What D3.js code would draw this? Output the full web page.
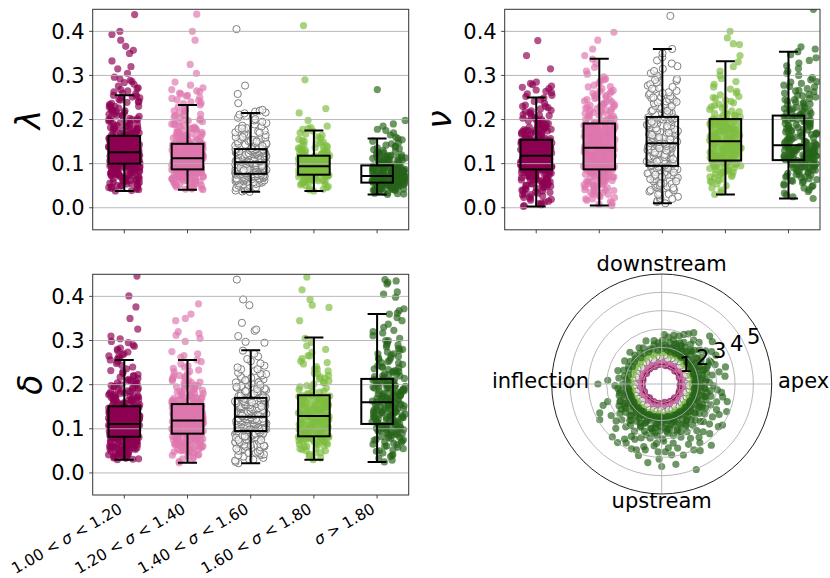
<!DOCTYPE html>
<html>
<head>
<meta charset="utf-8">
<script src="https://cdn.jsdelivr.net/npm/d3@7"></script>
<style>
  body { margin: 0; background: #fff; }
  svg { display: block; }
  text { font-family: "DejaVu Sans", sans-serif; fill: #000; }
</style>
</head>
<body>
<svg id="chart" width="830" height="578"></svg>
<script>
// ---------- data ----------
const categories = ["1.00 < σ < 1.20", "1.20 < σ < 1.40", "1.40 < σ < 1.60", "1.60 < σ < 1.80", "σ > 1.80"];
const yTicks = [0, 0.1, 0.2, 0.3, 0.4];
const yTickLabels = ["0.0", "0.1", "0.2", "0.3", "0.4"];
const radialTicks = [1, 2, 3, 4, 5];
const thetaTicks = [0, 90, 180, 270];
const thetaLabels = ["apex", "downstream", "inflection", "upstream"];

// box summaries per class: [low whisker, Q1, median, Q3, high whisker]
const lambdaBox = [[.038,.100,.126,.163,.255],[.041,.087,.112,.145,.233],[.036,.077,.103,.133,.215],[.038,.075,.094,.118,.175],[.030,.057,.072,.096,.157]];
const nuBox     = [[.003,.087,.118,.154,.250],[.005,.087,.136,.191,.338],[.010,.095,.146,.206,.360],[.030,.107,.151,.201,.332],[.021,.108,.142,.209,.354]];
const deltaBox  = [[.030,.082,.111,.151,.256],[.023,.089,.119,.156,.256],[.022,.095,.127,.170,.278],[.030,.083,.129,.176,.307],[.025,.111,.160,.213,.360]];

// individual samples, stored in thousandths
const SCALE = 1000;
const lambda1 = [38,39,41,42,44,45,46,47,49,50,51,52,53,54,55,56,57,58,59,60,61,62,62,63,64,65,66,66,67,68,69,69,70,71,72,72,73,74,74,75,76,76,77,78,78,79,80,80,81,82,82,83,84,84,85,85,86,87,87,88,88,89,90,90,91,91,92,93,93,94,94,95,95,96,96,97,97,98,98,99,
100,100,101,101,101,102,102,102,103,103,103,104,104,104,105,105,105,106,106,106,107,107,107,108,108,108,109,109,109,110,110,110,111,111,111,112,112,112,113,113,113,114,114,114,115,115,115,116,116,116,117,117,117,118,118,118,119,119,119,120,120,120,121,121,121,122,122,122,123,123,123,124,124,124,125,125,125,126,126,
127,127,128,128,129,129,130,130,131,131,132,132,133,133,134,134,135,135,136,136,137,137,138,138,139,139,140,140,141,141,142,142,143,143,144,144,145,145,146,146,147,147,148,148,149,149,150,150,151,151,152,152,153,153,154,154,155,155,156,156,157,157,158,158,159,159,160,160,161,161,162,162,163,163,
164,165,166,167,168,169,170,171,172,173,174,175,176,177,178,179,180,181,182,184,185,186,187,189,190,191,193,194,196,197,199,200,202,203,205,207,208,210,212,214,216,218,220,222,224,226,228,230,232,234,237,239,241,244,246,249,251,254,255,170,180,190,200,210,220,230,240,250,
258,260,263,265,268,270,272,276,280,284,286,289,292,296,305,315,320,333,350,357,366,380,393,400,438];
const lambda2 = [41,42,43,44,45,46,47,48,49,50,51,52,53,54,55,56,57,58,59,60,60,61,62,63,63,64,65,66,66,67,68,68,69,70,70,71,72,72,73,73,74,75,75,76,76,77,77,78,78,79,79,80,80,81,81,82,82,83,83,84,84,85,85,85,86,86,86,87,87,87,
88,88,89,89,90,90,90,91,91,92,92,93,93,93,94,94,95,95,96,96,96,97,97,98,98,99,99,99,100,100,101,101,102,102,102,103,103,104,104,105,105,105,106,106,107,107,108,108,108,109,109,110,110,111,111,111,112,112,113,113,113,114,114,114,112,110,106,101,95,90,
113,114,115,115,116,117,117,118,119,119,120,121,121,122,123,123,124,125,125,126,127,127,128,129,129,130,131,131,132,133,133,134,135,135,136,137,137,138,139,139,140,141,141,142,143,143,144,145,145,118,122,126,130,134,138,142,116,120,124,128,132,136,140,144,115,119,123,127,131,135,
146,147,148,149,150,151,152,153,154,155,156,157,158,159,160,161,162,163,164,165,166,167,168,170,171,172,174,175,177,178,180,181,183,185,187,189,191,193,195,197,199,201,204,206,209,212,215,218,221,225,229,233,150,160,170,180,190,200,210,220,
236,238,240,243,245,248,250,253,255,258,260,263,265,268,272,278,285,305,325,380,400,439];
const lambda3 = [36,37,39,40,42,43,45,46,48,49,50,51,52,53,54,55,56,57,58,59,60,60,61,62,62,63,64,64,65,65,66,66,67,67,68,68,69,69,70,70,71,71,72,72,72,73,73,73,74,74,74,75,75,75,76,76,76,77,77,77,
78,78,79,79,80,80,81,81,82,82,83,83,84,84,85,85,86,86,87,87,88,88,89,89,90,90,91,91,92,92,93,93,94,94,95,95,96,96,97,97,98,98,99,99,100,100,101,101,102,102,103,103,79,83,87,91,95,99,81,85,
104,104,105,105,106,106,107,107,108,108,109,109,110,110,111,111,112,112,113,113,114,114,115,115,116,116,117,117,118,118,119,119,120,120,121,121,122,122,123,123,124,124,125,125,126,126,127,127,128,128,129,129,130,130,131,131,132,132,133,133,
134,135,136,137,138,139,140,141,142,143,144,145,146,147,148,149,150,151,152,153,154,156,157,159,160,162,163,165,167,169,171,173,175,177,179,181,184,186,189,192,195,198,201,204,208,211,214,140,150,160,170,180,
216,218,220,222,237,258,277,405];
const lambda4 = [38,40,42,44,46,48,50,52,54,55,57,58,59,60,61,62,63,64,65,66,66,67,68,68,69,70,70,71,71,72,72,73,73,74,74,75,75,60,65,70,
76,76,77,77,78,78,79,79,80,80,81,81,82,82,83,83,84,84,85,85,86,86,87,87,88,88,89,89,90,90,91,91,92,92,93,93,94,94,80,88,
95,95,96,97,97,98,99,99,100,101,101,102,103,103,104,105,105,106,107,107,108,109,109,110,111,111,112,113,113,114,115,115,116,117,117,118,100,106,112,98,
119,120,121,122,123,124,125,126,127,128,129,130,131,132,133,135,136,138,139,141,143,145,147,149,151,153,155,158,161,164,167,170,174,130,140,
178,180,182,185,198,215,225,290,413];
const lambda5 = [30,31,32,33,34,35,36,37,38,39,40,40,41,42,42,43,43,44,44,45,45,46,46,47,47,48,48,49,49,50,50,50,51,51,51,52,52,52,53,53,53,54,54,54,55,55,55,56,56,56,57,57,45,50,
57,58,58,58,59,59,59,60,60,60,61,61,61,62,62,62,63,63,63,64,64,64,65,65,65,66,66,66,67,67,67,68,68,68,69,69,69,70,70,70,71,71,71,72,72,72,60,64,68,58,62,66,70,61,
73,73,74,74,75,75,76,76,77,77,78,78,79,79,80,80,81,81,82,82,83,83,84,84,85,85,86,86,87,87,88,88,89,89,90,90,91,91,92,92,93,93,94,94,95,95,96,96,75,80,85,90,78,88,
97,98,99,100,101,102,103,104,105,106,107,108,109,110,111,112,113,114,115,116,117,118,119,120,122,124,126,128,130,132,134,136,138,140,142,145,148,151,154,157,100,105,110,115,120,125,
160,165,170,175,178,185,190,198,268];

const nu1 = [3,5,7,9,11,13,15,17,19,21,23,25,27,29,30,32,33,35,36,38,39,40,42,43,44,45,47,48,49,50,51,52,53,54,55,56,57,58,59,60,61,62,63,64,65,66,66,67,68,69,70,70,71,72,73,73,74,75,75,76,77,77,78,79,79,80,80,81,82,82,83,83,84,84,85,85,86,86,87,87,
88,88,89,89,90,90,91,91,92,92,93,93,94,94,95,95,96,96,97,97,98,98,99,99,100,100,101,101,102,102,103,103,104,104,105,105,106,106,107,107,108,108,109,109,110,110,111,111,112,112,113,113,114,114,115,115,116,116,117,117,118,118,89,92,95,98,101,104,107,110,113,116,90,94,98,102,106,110,114,117,
119,119,120,120,121,122,122,123,124,124,125,126,126,127,128,128,129,130,130,131,132,132,133,134,134,135,136,136,137,138,138,139,140,140,141,142,142,143,144,144,145,146,146,147,148,148,149,150,150,151,152,152,153,154,154,120,125,130,135,140,145,150,123,128,133,138,143,148,153,121,127,131,137,141,147,151,124,129,139,149,
155,156,157,158,159,160,161,162,163,164,165,166,167,168,169,170,171,172,173,174,175,176,177,178,179,181,182,183,185,186,188,189,191,192,194,196,197,199,201,203,205,207,209,211,213,216,218,221,224,227,230,233,237,241,245,249,160,170,180,190,200,210,220,230,165,175,185,195,
252,255,258,261,264,267,270,273,276,279,282,285,315,345,379];
const nu2 = [5,8,11,14,17,20,23,25,28,30,33,35,37,39,41,43,45,47,49,50,52,53,55,56,58,59,61,62,63,64,66,67,68,69,70,71,72,73,74,75,76,77,78,79,80,81,82,83,84,85,86,86,87,87,20,30,40,50,60,70,80,45,55,65,75,35,62,72,82,58,
88,89,90,91,92,93,94,95,96,97,98,99,100,101,102,103,104,105,106,107,108,109,110,111,112,113,114,115,116,117,118,119,120,121,122,123,124,125,126,127,128,129,130,131,132,133,134,135,136,90,93,96,99,102,105,108,111,114,117,120,123,126,129,132,135,94,100,110,120,130,
137,138,139,140,141,142,143,144,145,146,147,148,149,150,151,152,153,154,155,156,157,158,159,160,161,162,163,164,165,166,167,168,169,170,171,172,173,174,175,176,177,178,179,180,181,182,183,184,185,186,187,188,189,190,140,145,150,155,160,165,170,175,180,185,190,143,153,163,173,183,
192,194,196,198,200,202,204,206,208,210,212,214,216,218,220,222,224,226,228,230,232,234,236,239,242,245,248,251,254,257,260,263,266,270,274,278,282,287,292,297,303,310,318,327,337,195,205,215,225,235,245,255,265,275,200,210,220,230,240,250,260,290,
345,360,380,398];
const nu3 = [10,13,16,19,22,25,28,31,34,37,40,42,44,46,48,50,52,54,56,58,60,62,63,65,66,68,69,71,72,74,75,77,78,80,81,82,84,85,86,87,88,89,90,91,92,93,94,94,20,30,40,50,60,70,80,90,45,55,65,75,
96,97,98,99,100,101,102,103,104,105,106,107,108,109,110,111,112,113,114,115,116,117,118,119,120,121,122,123,124,125,126,127,128,129,130,131,132,133,134,135,136,137,138,139,140,141,142,143,144,145,100,105,110,115,120,125,130,135,140,145,
147,148,149,150,151,152,153,154,155,156,157,158,159,160,162,163,164,166,167,168,170,171,172,174,175,176,178,179,180,182,183,184,186,187,188,190,191,192,194,195,196,198,199,200,202,203,204,205,150,155,160,165,170,175,180,185,190,195,200,205,
207,209,211,213,215,217,219,221,223,225,227,229,231,233,235,237,239,241,243,245,247,249,251,253,256,259,262,265,268,271,274,277,280,284,288,292,296,300,305,310,315,321,327,334,341,350,360,210,220,230,240,250,260,270,290,
435];
const nu4 = [30,35,40,45,50,54,58,62,65,68,71,74,77,79,81,83,85,87,89,91,93,95,96,98,99,100,101,102,103,104,105,106,60,70,80,90,100,75,85,95,
108,109,110,111,112,113,114,115,116,117,118,119,120,121,122,123,124,125,126,127,128,129,130,131,132,133,134,135,136,137,138,139,140,141,142,143,144,145,146,148,
152,153,154,155,156,157,158,159,160,162,163,164,166,167,168,170,171,172,174,175,176,178,179,180,182,183,184,186,187,188,190,191,192,194,195,196,197,198,199,200,
202,204,206,208,210,212,214,216,218,220,223,226,229,232,235,238,241,244,248,252,256,260,264,269,274,280,286,293,300,310,320,331,210,230,250,
345,370,372,385,400];
const nu5 = [21,25,29,33,37,41,45,48,51,54,57,60,62,64,66,68,70,72,74,76,78,80,82,83,85,86,88,89,91,92,93,94,95,96,97,98,99,100,101,102,103,104,105,106,107,107,60,70,80,90,100,50,75,95,
108,109,109,110,111,111,112,113,113,114,115,115,116,117,117,118,119,119,120,121,121,122,123,123,124,125,125,126,127,127,128,129,129,130,131,131,132,133,133,134,135,135,136,137,137,138,139,139,140,141,141,110,120,130,
143,144,146,147,148,150,151,152,154,155,156,158,159,160,162,163,164,166,167,168,170,171,172,174,175,176,178,179,180,182,183,184,186,187,188,190,191,192,194,195,196,198,199,200,202,203,204,206,207,208,150,170,190,200,
210,212,214,216,218,220,222,224,226,228,230,233,236,239,242,245,248,251,254,257,260,263,266,270,274,278,282,286,290,295,300,305,310,316,322,328,334,340,347,354,215,225,235,245,255,265,275,285,220,240,
360,365,450];

const delta1 = [30,31,32,33,34,35,36,37,38,39,40,41,42,43,44,45,46,47,48,49,50,51,52,53,54,55,56,57,58,59,60,61,62,63,64,65,66,67,68,69,70,71,72,73,74,75,76,77,78,79,80,81,40,45,50,55,60,62,64,66,68,70,72,74,75,76,77,78,79,80,81,57,63,67,71,73,69,65,61,59,
82,82,83,83,84,84,85,85,86,86,87,87,88,88,89,89,90,90,91,91,92,92,93,93,94,94,95,95,96,96,97,97,98,98,99,99,100,100,101,101,102,102,103,103,104,104,105,105,106,106,107,107,108,108,109,109,110,110,111,111,83,85,87,89,91,93,95,97,99,101,103,105,107,109,84,88,92,96,100,104,
112,112,113,113,114,114,115,115,116,116,117,117,118,118,119,119,120,120,121,121,122,122,123,123,124,124,125,125,126,126,127,127,128,128,129,129,130,130,131,131,132,132,133,133,134,134,135,135,136,136,137,137,138,138,139,139,140,140,141,141,142,142,143,143,144,144,145,145,146,146,147,147,148,148,149,149,150,150,151,151,
152,153,154,155,156,157,158,159,160,161,162,163,164,165,166,167,168,169,170,171,172,173,174,175,177,178,180,181,183,184,186,188,190,192,194,196,198,200,202,204,207,209,212,214,217,220,223,226,229,232,236,240,244,248,252,256,160,170,180,190,200,210,220,165,175,185,195,205,
258,260,263,265,268,270,274,277,280,283,287,290,295,298,304,310,326,350,376,401,446];
const delta2 = [23,26,29,32,35,38,40,42,44,46,48,50,51,53,54,56,57,58,60,61,62,63,64,65,66,67,68,69,70,71,72,73,74,75,76,77,78,79,80,81,82,83,84,85,86,87,88,88,40,50,60,70,80,55,65,75,85,45,52,59,66,73,78,83,86,63,68,72,77,82,
89,90,90,91,91,92,92,93,93,94,94,95,95,96,96,97,97,98,98,99,99,100,100,101,101,102,102,103,103,104,104,105,105,106,106,107,107,108,108,109,109,110,110,111,111,112,112,113,113,114,114,115,115,116,116,117,117,118,118,119,90,95,100,105,110,115,93,98,103,108,
120,121,121,122,123,123,124,125,125,126,127,127,128,129,129,130,131,131,132,133,133,134,135,135,136,137,137,138,139,139,140,141,141,142,143,143,144,145,145,146,147,147,148,149,149,150,151,151,152,153,153,154,155,155,156,122,126,130,134,138,142,146,150,154,124,128,132,136,140,144,
157,158,159,160,161,162,163,164,165,166,167,168,169,170,171,172,174,175,177,178,180,181,183,185,187,189,191,193,195,197,199,201,204,206,209,212,215,218,221,225,229,233,237,242,247,252,256,160,170,180,190,200,210,220,230,165,175,185,195,205,215,240,
262,266,270,275,298,305,312,316,320,345,350,360,383];
const delta3 = [22,25,28,31,34,37,40,42,44,46,48,50,52,54,56,58,60,61,63,64,66,67,69,70,72,73,75,76,78,79,81,82,84,85,86,87,88,89,90,91,92,93,94,94,30,40,50,60,70,80,90,45,55,65,75,85,62,74,83,92,
96,96,97,97,98,98,99,99,100,100,101,101,102,102,103,103,104,104,105,105,106,106,107,107,108,108,109,109,110,110,111,111,112,112,113,113,114,114,115,115,116,116,117,117,118,118,119,119,120,120,121,121,122,122,123,123,124,124,125,126,
128,129,129,130,131,132,132,133,134,135,135,136,137,138,138,139,140,141,141,142,143,144,144,145,146,147,147,148,149,150,150,151,152,153,153,154,155,156,156,157,158,159,159,160,161,162,162,163,164,165,165,166,167,168,168,169,170,130,150,160,
171,172,173,174,175,176,177,178,179,180,181,182,183,184,185,187,188,190,191,193,195,197,199,201,203,205,207,210,212,215,218,221,224,227,231,235,239,243,248,253,258,264,270,277,175,185,195,205,215,225,235,180,190,200,210,
295,297,310,322,325,340,380,393,438];
const delta4 = [30,34,38,42,46,50,53,56,59,61,63,65,67,69,70,72,73,74,75,76,77,78,79,80,81,82,82,83,45,55,65,75,60,70,80,50,68,78,71,79,
84,85,87,88,90,91,93,94,96,97,99,100,102,103,105,106,108,109,111,112,114,115,117,118,120,121,122,123,124,125,126,127,128,86,92,98,104,110,116,119,
130,131,133,134,136,137,139,140,142,143,145,146,148,149,151,152,154,155,157,158,160,161,163,164,166,167,169,170,172,173,174,175,176,135,141,147,153,159,165,171,
178,180,183,186,189,192,195,198,201,205,209,213,217,221,226,231,236,241,247,253,259,266,273,280,288,296,305,185,195,205,215,225,235,250,265,
345,375,380,393,415,444];
const delta5 = [25,29,33,37,41,45,49,52,55,58,61,64,67,70,72,74,76,78,80,82,84,86,88,89,91,92,94,95,97,98,100,101,102,103,104,105,106,107,108,109,110,110,40,50,60,70,80,90,100,65,75,85,95,105,
112,113,114,115,116,117,118,119,120,121,122,123,124,125,126,127,128,129,130,131,132,133,134,135,136,137,138,139,140,141,142,143,144,145,146,147,148,149,150,151,152,153,154,155,156,157,158,159,115,125,135,145,155,130,
161,162,163,164,165,166,167,168,169,170,171,172,173,174,175,176,177,178,179,180,181,182,183,184,185,186,187,188,189,190,191,192,193,194,195,196,197,198,199,200,201,202,203,204,205,206,207,208,209,210,211,212,213,170,
214,216,218,220,222,224,226,228,230,232,234,236,238,240,243,246,249,252,255,258,261,264,267,270,274,278,282,286,290,295,300,305,311,317,323,330,337,345,352,360,220,230,240,250,260,270,280,290,300,320,
362,368,372,398,405,410,428,432,435,438];

// polar samples: [angle in degrees, sigma]
const polar1 = [[3,1.05],[12,1.13],[20,1.02],[28,1.17],[36,1.08],[45,1.01],[53,1.15],[61,1.06],[70,1.11],[78,1.03],[86,1.18],[95,1.07],[103,1.12],[111,1.02],[120,1.16],[128,1.05],[137,1.1],[145,1.01],[153,1.14],[162,1.08],[170,1.04],[179,1.19],[187,1.06],[195,1.12],[204,1.03],[212,1.15],[220,1.09],[229,1.01],[237,1.13],[246,1.05],[254,1.17],[262,1.07],[271,1.1],[279,1.02],[287,1.14],[296,1.06],[304,1.11],[313,1.03],[321,1.16],[330,1.08],[338,1.04],[347,1.12],[355,1.01]];
const polar2 = [[2,1.26],[10,1.34],[18,1.22],[26,1.38],[34,1.29],[42,1.21],[50,1.35],[58,1.27],[66,1.31],[74,1.23],[82,1.37],[90,1.28],[98,1.33],[106,1.22],[114,1.36],[122,1.25],[130,1.3],[138,1.21],[146,1.34],[154,1.27],[162,1.24],[170,1.39],[178,1.26],[186,1.32],[194,1.23],[202,1.35],[210,1.29],[218,1.21],[226,1.33],[234,1.25],[242,1.37],[250,1.27],[258,1.3],[266,1.22],[274,1.34],[282,1.26],[290,1.31],[298,1.23],[306,1.36],[314,1.28],[322,1.24],[330,1.32],[338,1.21],[346,1.35],[354,1.29]];
const polar3 = [[5,1.45],[13,1.53],[21,1.42],[29,1.58],[37,1.49],[45,1.41],[53,1.55],[61,1.47],[69,1.51],[77,1.43],[85,1.57],[93,1.48],[101,1.53],[109,1.42],[117,1.56],[125,1.45],[133,1.5],[141,1.41],[149,1.54],[157,1.47],[165,1.44],[173,1.59],[181,1.46],[189,1.52],[197,1.43],[205,1.55],[213,1.49],[221,1.41],[229,1.53],[237,1.45],[245,1.57],[253,1.47],[261,1.5],[269,1.42],[277,1.54],[285,1.46],[293,1.51],[301,1.43],[309,1.56],[317,1.48],[325,1.44],[333,1.52],[341,1.41],[349,1.55],[357,1.49]];
const polar4 = [[1,1.66],[9,1.74],[17,1.62],[25,1.78],[33,1.69],[41,1.61],[49,1.75],[57,1.67],[65,1.71],[73,1.63],[81,1.77],[89,1.68],[97,1.73],[105,1.62],[113,1.76],[121,1.65],[129,1.7],[137,1.61],[145,1.74],[153,1.67],[161,1.64],[169,1.79],[177,1.66],[185,1.72],[193,1.63],[201,1.75],[209,1.69],[217,1.61],[225,1.73],[233,1.65],[241,1.77],[249,1.67],[257,1.7],[265,1.62],[273,1.74],[281,1.66],[289,1.71],[297,1.63],[305,1.76],[313,1.68],[321,1.64],[329,1.72],[337,1.61],[345,1.75],[353,1.69]];
const polar5 = [
  [1,1.86],[5,2.12],[8,1.95],[13,2.27],[16,1.9],[21,2.06],[24,2.21],[29,1.88],[32,2.16],[37,2.01],[40,1.84],[45,2.24],[48,1.97],[53,2.09],[56,1.86],[61,2.19],[64,2.03],[69,1.92],[72,2.28],[77,1.99],
  [80,1.87],[85,2.14],[88,1.94],[93,2.07],[96,1.85],[101,2.18],[104,1.96],[109,2.02],[112,1.89],[117,2.22],[120,1.93],[125,2.05],[128,1.84],[133,2.15],[136,1.98],[141,1.9],[144,2.11],[149,1.86],[152,2.04],[157,1.95],
  [160,2.2],[165,1.88],[168,2.08],[173,1.97],[176,1.85],[181,2.13],[184,1.91],[189,2.26],[192,2.0],[197,1.87],[200,2.17],[205,1.94],[208,2.29],[213,2.03],[216,1.89],[221,2.23],[224,1.96],[229,2.1],[232,1.85],[237,2.25],
  [240,2.0],[245,1.92],[248,2.19],[253,2.06],[256,1.88],[261,2.27],[264,1.98],[269,2.12],[272,1.86],[277,2.21],[280,2.02],[285,1.93],[288,2.16],[293,2.07],[296,1.87],[301,2.24],[304,1.99],[309,2.09],[312,1.9],[317,2.18],
  [320,2.04],[325,1.85],[328,2.22],[333,1.96],[336,2.11],[341,1.89],[344,2.26],[349,2.01],[352,1.92],[357,2.15],
  [188,1.83],[194,1.9],[199,1.81],[206,1.88],[211,1.82],[217,1.93],[223,1.84],[228,1.91],[234,1.82],[239,1.95],[246,1.83],[251,1.89],[258,1.82],[263,1.94],[270,1.83],[275,1.9],[282,1.81],[287,1.96],[294,1.84],[299,1.88],
  [306,1.82],[311,1.93],[318,1.85],[323,1.9],[330,1.82],[335,1.95],[342,1.84],[347,1.88],[354,1.82],[359,1.92],[6,1.83],[11,1.9],[18,1.82],[23,1.94],[30,1.85],[35,1.89],[42,1.82],[50,1.91],[57,1.84],[63,1.88],
  [191,1.81],[203,1.8],[214,1.81],[226,1.8],[237,1.81],[249,1.8],[261,1.81],[267,1.8],[279,1.8],[291,1.81],[302,1.8],[315,1.81],[327,1.8],[338,1.81],[351,1.8],[3,1.81],[15,1.8],[27,1.81],[39,1.8],[53,1.81],[66,1.8],[75,1.81],
  [192,2.35],[197,2.05],[203,2.48],[209,2.15],[214,2.38],[219,1.98],[225,2.45],[231,2.22],[236,2.05],[241,2.4],[247,2.28],[252,1.95],[257,2.5],[263,2.18],[268,2.33],[273,2.02],[278,2.46],[283,2.25],[289,2.1],[294,2.39],
  [299,1.97],[304,2.44],[309,2.3],[314,2.12],[319,2.36],[324,2.0],[329,2.42],[334,2.27],[339,2.08],[344,2.47],[349,2.2],[354,2.37],[359,2.04],[3,2.4],[8,2.23],[14,2.06],[19,2.45],[25,2.3],[31,2.12],[36,2.38],
  [42,2.0],[47,2.42],[52,2.26],[58,2.1],[63,2.35],[68,2.15],[74,2.05],[79,2.3],[84,2.02],[89,2.38],[95,2.25],[212,2.6],[244,2.62],[276,2.58],[300,2.65],[330,2.55],[20,2.6],[262,2.68],[288,2.7],[230,2.58],
  [202,2.42],[207,2.61],[211,2.35],[215,2.78],[218,2.5],[222,2.92],[226,2.38],[229,2.66],[233,2.83],[236,2.45],[240,2.97],[243,2.56],[247,2.34],[250,2.74],[253,2.9],[256,2.48],[259,2.63],[262,2.37],[265,2.85],[268,2.55],
  [271,2.99],[274,2.41],[277,2.7],[280,2.52],[283,2.88],[286,2.33],[289,2.64],[292,2.79],[295,2.46],[298,2.95],[301,2.58],[304,2.39],[307,2.82],[310,2.51],[313,2.69],[316,2.94],[319,2.43],[322,2.6],[325,2.86],[328,2.36],
  [331,2.73],[334,2.49],[337,2.91],[340,2.57],[343,2.4],[346,2.77],[349,2.53],[352,2.67],[355,2.35],[358,2.84],[2,2.6],[6,2.44],[10,2.8],[14,2.52],[18,2.37],[22,2.71],[26,2.89],[30,2.47],[34,2.62],[38,2.34],
  [42,2.76],[46,2.55],[50,2.42],[54,2.68],[58,2.38],[62,2.58],[66,2.45],[70,2.33],[75,2.5],[195,2.4],
  [198,3.1],[212,3.25],[219,3.2],[224,3.48],[230,3.05],[236,3.62],[240,3.3],[249,3.15],[254,3.55],[258,3.02],[263,3.4],[267,3.7],[272,3.12],[276,3.5],[281,3.28],[290,3.08],[294,3.6],[298,3.35],[303,3.82],[307,3.18],
  [311,3.45],[318,3.06],[327,3.3],[332,3.55],[342,3.15],[348,3.4],[354,3.05],[12,3.2],[20,3.1],[28,3.35],[40,3.6],[48,3.05],[54,2.96],
  [200,3.4],[210,3.9],[227,3.95],[233,4.0],[244,3.35],[252,4.1],[256,3.7],[265,3.25],[270,4.5],[278,3.9],[284,3.6],[296,4.0],[305,3.55],[309,4.3],[320,3.4],[326,4.0],[335,3.3],[345,3.7],[352,3.3],[15,3.6],
  [33,3.25],[24,2.95],[37,3.0],[62,3.1],[70,2.8],[76,2.75],
  [100,2.4],[110,2.5],[122,2.33],[135,2.45],[148,2.38],[163,2.5],[172,2.36],[82,2.58],[87,2.7],[66,2.96],[58,3.3],[45,3.7],[176,2.95],[182,2.55],[180,3.48],[186,2.4],
  [292,5.03],[260,4.35],[239,3.76],[273,3.7],[287,4.05],[300,4.2],[314,3.77],[323,3.87],[249,3.85],[205,3.73],[337,3.85],[7,3.48],[268,4.1],[280,4.45],[245,3.9]
];

// ---------- styling ----------
const pointFill = ["#8e0152", "#de77ae", "#ffffff", "#7fbc41", "#276419"];
const boxFill   = ["#8e0152", "#e596c3", "#ffffff", "#98cc66", "#ffffff"];
const jitterRange = [[-0.25, 0.25], [-0.25, 0.25], [-0.25, 0.25], [-0.25, 0.25], [-0.08, 0.45]];
const GRID = "#b0b0b0";
const FONT = 21;
const ALPHA = 0.68;

const svg = d3.select("#chart");

// deterministic horizontal spread for strip points
function spread(i, j, seed) {
  const s = Math.sin(j * 12.9898 + i * 78.233 + seed * 37.719) * 43758.5453;
  return s - Math.floor(s);
}

function stylePoint(sel, i) {
  if (i === 2) {
    sel.attr("fill", "#ffffff").attr("fill-opacity", 0.6)
       .attr("stroke", "#7f7f7f").attr("stroke-width", 1);
  } else {
    sel.attr("fill", pointFill[i]).attr("fill-opacity", ALPHA).attr("stroke", "none");
  }
}

function boxPanel(o) {
  const x = d3.scaleLinear().domain([-0.5, 4.5]).range([o.left, o.right]);
  const y = d3.scaleLinear().domain([-0.05, 0.45]).range([o.bottom, o.top]);
  const g = svg.append("g");
  const clipId = "clip-" + o.seed;
  svg.append("clipPath").attr("id", clipId).append("rect")
    .attr("x", o.left).attr("y", o.top).attr("width", o.right - o.left).attr("height", o.bottom - o.top);
  const plot = g.append("g").attr("clip-path", `url(#${clipId})`);
  const half = 0.25, cap = 0.15;

  // box faces
  plot.append("g").selectAll("rect").data(o.box).join("rect")
    .attr("x", (d, i) => x(i - half)).attr("width", (d, i) => x(i + half) - x(i - half))
    .attr("y", d => y(d[3])).attr("height", d => y(d[1]) - y(d[3]))
    .attr("fill", (d, i) => boxFill[i]);

  // strip points
  o.values.forEach((vals, i) => {
    const [lo, hi] = jitterRange[i];
    plot.append("g").selectAll("circle").data(vals).join("circle")
      .attr("cx", (v, j) => x(i + lo + (hi - lo) * spread(i, j, o.seed)))
      .attr("cy", v => y(v / SCALE))
      .attr("r", 3.6)
      .call(stylePoint, i);
  });

  // horizontal grid
  plot.append("g").selectAll("line").data(yTicks).join("line")
    .attr("x1", o.left).attr("x2", o.right)
    .attr("y1", d => y(d)).attr("y2", d => y(d))
    .attr("stroke", GRID).attr("stroke-width", 0.9);

  // box outlines, whiskers, caps, medians
  const lines = plot.append("g").attr("stroke", "#000").attr("stroke-width", 2).attr("fill", "none");
  o.box.forEach((b, i) => {
    const [lw, q1, md, q3, hw] = b;
    lines.append("rect").attr("x", x(i - half)).attr("width", x(i + half) - x(i - half))
      .attr("y", y(q3)).attr("height", y(q1) - y(q3));
    lines.append("line").attr("x1", x(i)).attr("x2", x(i)).attr("y1", y(q3)).attr("y2", y(hw));
    lines.append("line").attr("x1", x(i)).attr("x2", x(i)).attr("y1", y(q1)).attr("y2", y(lw));
    [lw, hw].forEach(v => lines.append("line").attr("x1", x(i - cap)).attr("x2", x(i + cap)).attr("y1", y(v)).attr("y2", y(v)));
    lines.append("line").attr("x1", x(i - half)).attr("x2", x(i + half)).attr("y1", y(md)).attr("y2", y(md));
  });

  // frame
  g.append("rect").attr("x", o.left).attr("y", o.top)
    .attr("width", o.right - o.left).attr("height", o.bottom - o.top)
    .attr("fill", "none").attr("stroke", "#333").attr("stroke-width", 1);

  // y ticks and labels
  yTicks.forEach((t, k) => {
    g.append("line").attr("x1", o.left - 3.5).attr("x2", o.left).attr("y1", y(t)).attr("y2", y(t))
      .attr("stroke", "#333").attr("stroke-width", 0.9);
    g.append("text").attr("x", o.left - 8).attr("y", y(t)).attr("dy", "0.36em")
      .attr("text-anchor", "end").attr("font-size", FONT).text(yTickLabels[k]);
  });

  // x ticks
  categories.forEach((c, i) => {
    g.append("line").attr("x1", x(i)).attr("x2", x(i)).attr("y1", o.bottom).attr("y2", o.bottom + 3.5)
      .attr("stroke", "#333").attr("stroke-width", 0.9);
    if (o.showCats) {
      const parts = c.split("σ");
      const t = g.append("text")
        .attr("transform", `translate(${x(i) - 1},${o.bottom + 17}) rotate(-30)`)
        .attr("text-anchor", "end").attr("font-size", 15.5);
      t.append("tspan").text(parts[0]);
      t.append("tspan").attr("font-style", "italic").text("σ");
      t.append("tspan").text(parts[1]);
    }
  });

  // axis label
  g.append("text").attr("transform", `translate(${o.labelX},${(o.top + o.bottom) / 2}) rotate(-90)`)
    .attr("text-anchor", "middle").attr("dy", o.labelDy).attr("font-size", 33)
    .attr("font-style", "italic").text(o.label);
}

boxPanel({ left: 92.7, right: 408.7, top: 9.3, bottom: 229.8, seed: 1,
  box: lambdaBox, values: [lambda1, lambda2, lambda3, lambda4, lambda5],
  label: "λ", labelX: 27.5, labelDy: "0.38em", showCats: false });
boxPanel({ left: 504.7, right: 820, top: 9.3, bottom: 229.8, seed: 2,
  box: nuBox, values: [nu1, nu2, nu3, nu4, nu5],
  label: "ν", labelX: 442.5, labelDy: "0.27em", showCats: false });
boxPanel({ left: 92.7, right: 408.7, top: 274.3, bottom: 495, seed: 3,
  box: deltaBox, values: [delta1, delta2, delta3, delta4, delta5],
  label: "δ", labelX: 29, labelDy: "0.38em", showCats: true });

// ---------- polar panel ----------
(function polarPanel() {
  const cx = 661.7, cy = 384, R = 110;
  const r = d3.scaleLinear().domain([0, 6]).range([0, R]);
  const a = d3.scaleLinear().domain([0, 360]).range([0, 2 * Math.PI]);
  const px = (t, s) => cx + r(s) * Math.cos(a(t));
  const py = (t, s) => cy - r(s) * Math.sin(a(t));
  const g = svg.append("g");

  [polar1, polar2, polar3, polar4, polar5].forEach((pts, i) => {
    g.append("g").selectAll("circle").data(pts).join("circle")
      .attr("cx", d => px(d[0], d[1])).attr("cy", d => py(d[0], d[1]))
      .attr("r", 3.6).call(stylePoint, i);
  });

  // grid
  g.append("g").selectAll("circle").data(radialTicks).join("circle")
    .attr("cx", cx).attr("cy", cy).attr("r", d => r(d))
    .attr("fill", "none").attr("stroke", GRID).attr("stroke-width", 0.9);
  g.append("g").selectAll("line").data(thetaTicks).join("line")
    .attr("x1", cx).attr("y1", cy)
    .attr("x2", d => px(d, 6)).attr("y2", d => py(d, 6))
    .attr("stroke", GRID).attr("stroke-width", 0.9);
  g.append("circle").attr("cx", cx).attr("cy", cy).attr("r", R)
    .attr("fill", "none").attr("stroke", "#222").attr("stroke-width", 1);

  // radial labels along 22.5 degrees
  radialTicks.forEach(v => {
    g.append("text").attr("x", px(22.5, v) + 0.5).attr("y", py(22.5, v) - 4.5)
      .attr("font-size", FONT).text(v);
  });

  // angular labels
  const place = [
    { x: 778, y: 388, anchor: "start" },
    { x: cx, y: 271, anchor: "middle" },
    { x: 589, y: 388, anchor: "end" },
    { x: cx, y: 508, anchor: "middle" }
  ];
  thetaLabels.forEach((lab, k) => {
    g.append("text").attr("x", place[k].x).attr("y", place[k].y)
      .attr("text-anchor", place[k].anchor).attr("font-size", FONT).text(lab);
  });
})();
</script>
</body>
</html>
